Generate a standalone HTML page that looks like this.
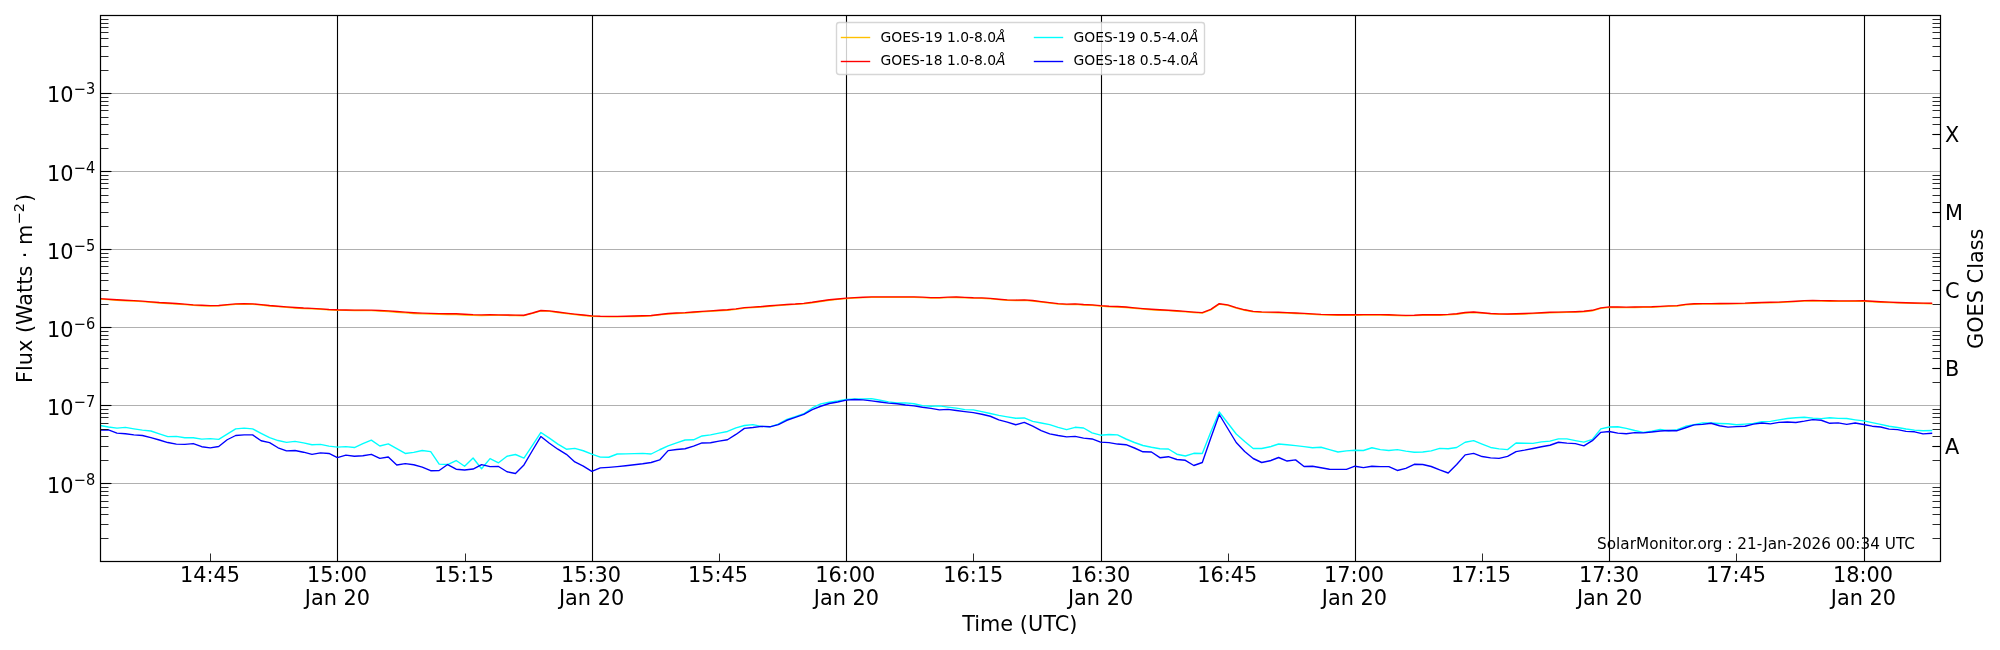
<!DOCTYPE html>
<html lang="en"><head><meta charset="utf-8"><title>GOES X-ray Flux</title>
<style>
html,body{margin:0;padding:0;background:#ffffff;}
svg{display:block;will-change:transform;}
text{font-family:"DejaVu Sans","Liberation Sans",sans-serif;fill:#000000;}
.tk{font-size:20.83px;}
.xt{letter-spacing:0.000px;}
.sup{font-size:14.58px;}
.lg{font-size:13.89px;}
.it{font-style:italic;}
.sm{font-size:15.28px;}
</style></head><body>
<svg width="2000" height="650" viewBox="0 0 2000 650">
<rect x="0" y="0" width="2000" height="650" fill="#ffffff"/>
<defs><clipPath id="axclip"><rect x="100" y="15" width="1840" height="546.4"/></clipPath></defs>
<g stroke="#b0b0b0" stroke-width="1.11" fill="none">
<line x1="100.5" y1="93.5" x2="1940.5" y2="93.5"/>
<line x1="100.5" y1="171.5" x2="1940.5" y2="171.5"/>
<line x1="100.5" y1="249.5" x2="1940.5" y2="249.5"/>
<line x1="100.5" y1="327.5" x2="1940.5" y2="327.5"/>
<line x1="100.5" y1="405.5" x2="1940.5" y2="405.5"/>
<line x1="100.5" y1="483.5" x2="1940.5" y2="483.5"/>
</g>
<g stroke="#000000" stroke-width="1.11" fill="none">
<line x1="337.5" y1="15.5" x2="337.5" y2="561.5"/>
<line x1="592.5" y1="15.5" x2="592.5" y2="561.5"/>
<line x1="846.5" y1="15.5" x2="846.5" y2="561.5"/>
<line x1="1101.5" y1="15.5" x2="1101.5" y2="561.5"/>
<line x1="1355.5" y1="15.5" x2="1355.5" y2="561.5"/>
<line x1="1609.5" y1="15.5" x2="1609.5" y2="561.5"/>
<line x1="1864.5" y1="15.5" x2="1864.5" y2="561.5"/>
</g>
<g clip-path="url(#axclip)" fill="none" stroke-width="1.39" stroke-linejoin="round" stroke-linecap="square">
<path stroke="#ffc000" d="M100.00 299.09 L108.48 299.68 L116.96 300.26 L125.44 300.73 L133.92 301.12 L142.40 301.59 L150.88 302.30 L159.35 302.99 L167.83 303.49 L176.31 303.98 L184.79 304.63 L193.27 305.30 L201.75 305.73 L210.23 306.04 L218.71 305.92 L227.19 305.13 L235.67 304.34 L244.15 304.09 L252.63 304.28 L261.11 305.03 L269.59 305.96 L278.06 306.67 L286.54 307.34 L295.02 307.94 L303.50 308.47 L311.98 308.81 L320.46 309.27 L328.94 309.91 L337.42 310.25 L345.90 310.40 L354.38 310.54 L362.86 310.56 L371.34 310.58 L379.82 311.02 L388.29 311.52 L396.77 312.27 L405.25 312.93 L413.73 313.48 L422.21 313.85 L430.69 314.16 L439.17 314.41 L447.65 314.47 L456.13 314.47 L464.61 314.95 L473.09 315.43 L481.57 315.59 L490.05 315.38 L498.53 315.35 L507.00 315.42 L515.48 315.56 L523.96 315.70 L532.44 313.43 L540.92 310.93 L549.40 311.37 L557.88 312.46 L566.36 313.55 L574.84 314.57 L583.32 315.51 L591.80 316.28 L600.28 316.66 L608.76 316.80 L617.23 316.80 L625.71 316.67 L634.19 316.50 L642.67 316.25 L651.15 315.92 L659.63 314.93 L668.11 313.94 L676.59 313.50 L685.07 313.12 L693.55 312.51 L702.03 311.87 L710.51 311.28 L718.99 310.74 L727.47 310.25 L735.94 309.37 L744.42 308.10 L752.90 307.55 L761.38 307.01 L769.86 306.25 L778.34 305.52 L786.82 304.89 L795.30 304.43 L803.78 303.77 L812.26 302.71 L820.74 301.45 L829.22 300.22 L837.70 299.42 L846.17 298.61 L854.65 298.10 L863.13 297.67 L871.61 297.36 L880.09 297.35 L888.57 297.35 L897.05 297.35 L905.53 297.35 L914.01 297.35 L922.49 297.60 L930.97 298.12 L939.45 298.12 L947.93 297.60 L956.41 297.50 L964.88 297.81 L973.36 298.17 L981.84 298.33 L990.32 298.80 L998.80 299.65 L1007.28 300.36 L1015.76 300.56 L1024.24 300.32 L1032.72 300.95 L1041.20 302.04 L1049.68 303.06 L1058.16 304.07 L1066.64 304.63 L1075.11 304.37 L1083.59 304.94 L1092.07 305.30 L1100.55 306.12 L1109.03 306.73 L1117.51 306.94 L1125.99 307.45 L1134.47 308.30 L1142.95 309.06 L1151.43 309.73 L1159.91 310.24 L1168.39 310.66 L1176.87 311.23 L1185.35 311.83 L1193.82 312.52 L1202.30 313.10 L1210.78 309.80 L1219.26 304.15 L1227.74 305.33 L1236.22 308.10 L1244.70 310.25 L1253.18 311.80 L1261.66 312.36 L1270.14 312.57 L1278.62 312.75 L1287.10 313.09 L1295.58 313.45 L1304.05 313.88 L1312.53 314.35 L1321.01 314.88 L1329.49 315.04 L1337.97 315.19 L1346.45 315.21 L1354.93 315.21 L1363.41 315.13 L1371.89 315.06 L1380.37 315.13 L1388.85 315.20 L1397.33 315.52 L1405.81 315.82 L1414.29 315.68 L1422.76 315.26 L1431.24 315.21 L1439.72 315.19 L1448.20 314.87 L1456.68 314.24 L1465.16 312.96 L1473.64 312.45 L1482.12 313.15 L1490.60 313.89 L1499.08 314.33 L1507.56 314.43 L1516.04 314.19 L1524.52 313.95 L1532.99 313.61 L1541.47 313.15 L1549.95 312.72 L1558.43 312.55 L1566.91 312.38 L1575.39 312.14 L1583.87 311.74 L1592.35 310.75 L1600.83 308.34 L1609.31 307.35 L1617.79 307.45 L1626.27 307.61 L1634.75 307.45 L1643.23 307.27 L1651.70 307.26 L1660.18 306.79 L1668.66 306.37 L1677.14 306.05 L1685.62 304.79 L1694.10 304.22 L1702.58 304.12 L1711.06 304.06 L1719.54 304.01 L1728.02 303.90 L1736.50 303.79 L1744.98 303.62 L1753.46 303.26 L1761.93 302.92 L1770.41 302.75 L1778.89 302.53 L1787.37 302.10 L1795.85 301.64 L1804.33 301.11 L1812.81 300.93 L1821.29 301.07 L1829.77 301.24 L1838.25 301.32 L1846.73 301.35 L1855.21 301.29 L1863.69 301.23 L1872.17 301.70 L1880.64 302.20 L1889.12 302.56 L1897.60 302.91 L1906.08 303.17 L1914.56 303.41 L1923.04 303.55 L1931.52 303.70"/>
<path stroke="#ff0000" d="M100.00 298.64 L108.48 299.23 L116.96 299.81 L125.44 300.28 L133.92 300.67 L142.40 301.14 L150.88 301.85 L159.35 302.54 L167.83 303.04 L176.31 303.53 L184.79 304.18 L193.27 304.85 L201.75 305.28 L210.23 305.59 L218.71 305.47 L227.19 304.68 L235.67 303.89 L244.15 303.64 L252.63 303.83 L261.11 304.58 L269.59 305.51 L278.06 306.22 L286.54 306.89 L295.02 307.49 L303.50 308.02 L311.98 308.36 L320.46 308.82 L328.94 309.46 L337.42 309.80 L345.90 309.95 L354.38 310.09 L362.86 310.11 L371.34 310.11 L379.82 310.45 L388.29 310.85 L396.77 311.52 L405.25 312.18 L413.73 312.73 L422.21 313.10 L430.69 313.41 L439.17 313.66 L447.65 313.72 L456.13 313.72 L464.61 314.20 L473.09 314.68 L481.57 314.92 L490.05 314.81 L498.53 314.88 L507.00 314.97 L515.48 315.11 L523.96 315.25 L532.44 312.98 L540.92 310.48 L549.40 310.92 L557.88 312.01 L566.36 313.10 L574.84 314.12 L583.32 315.06 L591.80 315.83 L600.28 316.21 L608.76 316.35 L617.23 316.35 L625.71 316.22 L634.19 316.05 L642.67 315.80 L651.15 315.47 L659.63 314.48 L668.11 313.49 L676.59 313.05 L685.07 312.67 L693.55 312.06 L702.03 311.42 L710.51 310.83 L718.99 310.29 L727.47 309.80 L735.94 308.92 L744.42 307.65 L752.90 307.10 L761.38 306.56 L769.86 305.80 L778.34 305.07 L786.82 304.44 L795.30 303.98 L803.78 303.32 L812.26 302.26 L820.74 301.00 L829.22 299.77 L837.70 298.97 L846.17 298.16 L854.65 297.65 L863.13 297.22 L871.61 296.91 L880.09 296.90 L888.57 296.90 L897.05 296.90 L905.53 296.90 L914.01 296.90 L922.49 297.15 L930.97 297.67 L939.45 297.67 L947.93 297.15 L956.41 297.05 L964.88 297.36 L973.36 297.72 L981.84 297.88 L990.32 298.35 L998.80 299.20 L1007.28 299.91 L1015.76 300.11 L1024.24 299.87 L1032.72 300.50 L1041.20 301.59 L1049.68 302.61 L1058.16 303.62 L1066.64 304.18 L1075.11 303.92 L1083.59 304.49 L1092.07 304.85 L1100.55 305.67 L1109.03 306.28 L1117.51 306.49 L1125.99 307.00 L1134.47 307.85 L1142.95 308.61 L1151.43 309.28 L1159.91 309.79 L1168.39 310.21 L1176.87 310.78 L1185.35 311.38 L1193.82 312.07 L1202.30 312.65 L1210.78 309.35 L1219.26 303.70 L1227.74 304.88 L1236.22 307.65 L1244.70 309.80 L1253.18 311.35 L1261.66 311.91 L1270.14 312.12 L1278.62 312.30 L1287.10 312.64 L1295.58 313.00 L1304.05 313.43 L1312.53 313.90 L1321.01 314.43 L1329.49 314.59 L1337.97 314.74 L1346.45 314.76 L1354.93 314.76 L1363.41 314.68 L1371.89 314.61 L1380.37 314.68 L1388.85 314.75 L1397.33 315.07 L1405.81 315.37 L1414.29 315.23 L1422.76 314.81 L1431.24 314.76 L1439.72 314.74 L1448.20 314.42 L1456.68 313.79 L1465.16 312.51 L1473.64 312.00 L1482.12 312.70 L1490.60 313.44 L1499.08 313.88 L1507.56 313.98 L1516.04 313.74 L1524.52 313.50 L1532.99 313.16 L1541.47 312.70 L1549.95 312.27 L1558.43 312.10 L1566.91 311.93 L1575.39 311.69 L1583.87 311.29 L1592.35 310.30 L1600.83 307.89 L1609.31 306.90 L1617.79 307.00 L1626.27 307.16 L1634.75 307.00 L1643.23 306.82 L1651.70 306.81 L1660.18 306.34 L1668.66 305.92 L1677.14 305.60 L1685.62 304.34 L1694.10 303.77 L1702.58 303.67 L1711.06 303.61 L1719.54 303.56 L1728.02 303.45 L1736.50 303.34 L1744.98 303.17 L1753.46 302.81 L1761.93 302.47 L1770.41 302.30 L1778.89 302.08 L1787.37 301.65 L1795.85 301.19 L1804.33 300.66 L1812.81 300.48 L1821.29 300.62 L1829.77 300.79 L1838.25 300.87 L1846.73 300.90 L1855.21 300.84 L1863.69 300.78 L1872.17 301.25 L1880.64 301.75 L1889.12 302.11 L1897.60 302.46 L1906.08 302.72 L1914.56 302.96 L1923.04 303.10 L1931.52 303.25"/>
<path stroke="#00ffff" d="M100.00 425.55 L108.48 427.00 L116.96 428.10 L125.44 427.42 L133.92 428.87 L142.40 430.14 L150.88 430.99 L159.35 433.80 L167.83 436.60 L176.31 436.35 L184.79 437.79 L193.27 437.71 L201.75 439.07 L210.23 438.64 L218.71 439.32 L227.19 434.22 L235.67 428.87 L244.15 428.10 L252.63 428.87 L261.11 433.37 L269.59 437.69 L278.06 440.55 L286.54 442.42 L295.02 441.40 L303.50 442.85 L311.98 444.72 L320.46 444.38 L328.94 446.08 L337.42 447.10 L345.90 446.67 L354.38 447.52 L362.86 443.70 L371.34 440.13 L379.82 445.99 L388.29 443.87 L396.77 448.63 L405.25 453.47 L413.73 452.37 L422.21 450.50 L430.69 451.60 L439.17 464.18 L447.65 464.52 L456.13 460.53 L464.61 466.22 L473.09 457.98 L481.57 468.77 L490.05 458.57 L498.53 462.82 L507.00 456.28 L515.48 454.49 L523.96 458.15 L532.44 445.40 L540.92 432.48 L549.40 438.17 L557.88 444.12 L566.36 449.22 L574.84 448.37 L583.32 450.75 L591.80 454.07 L600.28 457.13 L608.76 457.26 L617.23 454.00 L625.71 453.83 L634.19 453.57 L642.67 453.32 L651.15 454.00 L659.63 449.75 L668.11 445.92 L676.59 442.95 L685.07 439.97 L693.55 439.80 L702.03 435.98 L710.51 434.87 L718.99 433.17 L727.47 431.47 L735.94 427.82 L744.42 425.52 L752.90 424.67 L761.38 426.37 L769.86 426.80 L778.34 424.17 L786.82 419.42 L795.30 416.62 L803.78 413.73 L812.26 407.95 L820.74 403.87 L829.22 402.25 L837.70 400.98 L846.17 399.45 L854.65 398.85 L863.13 398.85 L871.61 398.60 L880.09 400.30 L888.57 401.83 L897.05 403.02 L905.53 402.85 L914.01 403.70 L922.49 405.65 L930.97 406.25 L939.45 405.82 L947.93 407.08 L956.41 408.17 L964.88 409.62 L973.36 409.87 L981.84 411.57 L990.32 413.53 L998.80 415.40 L1007.28 416.84 L1015.76 418.20 L1024.24 417.95 L1032.72 421.35 L1041.20 423.05 L1049.68 424.58 L1058.16 427.30 L1066.64 429.68 L1075.11 427.30 L1083.59 427.98 L1092.07 432.82 L1100.55 435.20 L1109.03 434.52 L1117.51 434.89 L1125.99 439.00 L1134.47 442.50 L1142.95 445.50 L1151.43 447.20 L1159.91 448.70 L1168.39 449.00 L1176.87 454.20 L1185.35 456.00 L1193.82 453.30 L1202.30 453.50 L1210.78 432.00 L1219.26 412.00 L1227.74 423.00 L1236.22 434.00 L1244.70 441.50 L1253.18 448.50 L1261.66 448.50 L1270.14 446.80 L1278.62 444.00 L1287.10 444.71 L1295.58 445.65 L1304.05 446.67 L1312.53 447.78 L1321.01 447.27 L1329.49 449.65 L1337.97 452.03 L1346.45 450.92 L1354.93 450.24 L1363.41 450.50 L1371.89 447.78 L1380.37 449.65 L1388.85 450.50 L1397.33 449.65 L1405.81 451.18 L1414.29 452.20 L1422.76 452.03 L1431.24 450.92 L1439.72 448.37 L1448.20 448.80 L1456.68 447.49 L1465.16 442.27 L1473.64 440.65 L1482.12 444.05 L1490.60 447.45 L1499.08 448.90 L1507.56 449.58 L1516.04 442.95 L1524.52 443.20 L1532.99 443.37 L1541.47 441.93 L1549.95 441.08 L1558.43 438.87 L1566.91 438.87 L1575.39 440.57 L1583.87 442.10 L1592.35 439.38 L1600.83 428.92 L1609.31 427.05 L1617.79 426.80 L1626.27 428.41 L1634.75 430.53 L1643.23 432.40 L1651.70 431.12 L1660.18 429.42 L1668.66 430.70 L1677.14 429.68 L1685.62 426.28 L1694.10 424.75 L1702.58 422.88 L1711.06 423.05 L1719.54 423.47 L1728.02 423.73 L1736.50 424.75 L1744.98 424.07 L1753.46 423.47 L1761.93 421.77 L1770.41 421.35 L1778.89 419.90 L1787.37 418.54 L1795.85 417.74 L1804.33 417.27 L1812.81 418.12 L1821.29 418.63 L1829.77 417.69 L1838.25 418.37 L1846.73 418.54 L1855.21 419.82 L1863.69 420.92 L1872.17 422.62 L1880.64 424.32 L1889.12 426.28 L1897.60 427.55 L1906.08 429.00 L1914.56 430.10 L1923.04 430.70 L1931.52 430.53"/>
<path stroke="#0000ff" d="M100.00 429.97 L108.48 429.97 L116.96 433.12 L125.44 433.80 L133.92 434.82 L142.40 435.50 L150.88 437.62 L159.35 440.00 L167.83 442.55 L176.31 444.17 L184.79 444.34 L193.27 443.57 L201.75 446.72 L210.23 447.82 L218.71 446.55 L227.19 439.75 L235.67 435.50 L244.15 434.90 L252.63 434.90 L261.11 440.77 L269.59 442.62 L278.06 447.78 L286.54 450.92 L295.02 450.50 L303.50 452.20 L311.98 454.32 L320.46 452.88 L328.94 453.47 L337.42 457.55 L345.90 455.17 L354.38 456.19 L362.86 455.77 L371.34 454.32 L379.82 458.32 L388.29 457.04 L396.77 464.95 L405.25 463.67 L413.73 464.78 L422.21 467.07 L430.69 470.73 L439.17 470.47 L447.65 464.52 L456.13 469.20 L464.61 470.05 L473.09 469.03 L481.57 464.69 L490.05 466.65 L498.53 466.48 L507.00 471.75 L515.48 473.45 L523.96 464.95 L532.44 450.50 L540.92 436.47 L549.40 443.27 L557.88 449.22 L566.36 454.32 L574.84 461.97 L583.32 466.05 L591.80 471.32 L600.28 467.92 L608.76 467.34 L617.23 466.58 L625.71 465.73 L634.19 464.79 L642.67 463.77 L651.15 462.50 L659.63 459.95 L668.11 450.60 L676.59 449.49 L685.07 448.73 L693.55 446.18 L702.03 442.95 L710.51 442.78 L718.99 441.08 L727.47 439.72 L735.94 434.45 L744.42 428.33 L752.90 427.48 L761.38 426.37 L769.86 426.80 L778.34 424.60 L786.82 420.27 L795.30 417.30 L803.78 414.32 L812.26 409.65 L820.74 406.25 L829.22 403.53 L837.70 402.00 L846.17 400.13 L854.65 399.45 L863.13 399.87 L871.61 400.89 L880.09 402.00 L888.57 403.10 L897.05 403.70 L905.53 404.97 L914.01 405.82 L922.49 407.27 L930.97 408.37 L939.45 409.82 L947.93 409.34 L956.41 410.47 L964.88 411.57 L973.36 412.59 L981.84 414.29 L990.32 416.25 L998.80 419.90 L1007.28 422.20 L1015.76 424.75 L1024.24 422.45 L1032.72 426.19 L1041.20 430.53 L1049.68 433.93 L1058.16 435.54 L1066.64 436.90 L1075.11 436.39 L1083.59 438.09 L1092.07 438.94 L1100.55 442.17 L1109.03 442.60 L1117.51 444.06 L1125.99 444.70 L1134.47 448.00 L1142.95 451.80 L1151.43 452.00 L1159.91 457.70 L1168.39 456.70 L1176.87 459.50 L1185.35 460.30 L1193.82 465.50 L1202.30 462.50 L1210.78 438.00 L1219.26 414.50 L1227.74 428.50 L1236.22 442.50 L1244.70 451.50 L1253.18 458.50 L1261.66 462.50 L1270.14 460.80 L1278.62 457.50 L1287.10 461.06 L1295.58 459.85 L1304.05 466.48 L1312.53 466.22 L1321.01 467.75 L1329.49 469.20 L1337.97 469.37 L1346.45 469.37 L1354.93 466.22 L1363.41 467.67 L1371.89 466.22 L1380.37 466.65 L1388.85 466.65 L1397.33 470.47 L1405.81 468.35 L1414.29 464.27 L1422.76 464.52 L1431.24 466.48 L1439.72 469.88 L1448.20 473.02 L1456.68 464.57 L1465.16 454.85 L1473.64 453.40 L1482.12 456.55 L1490.60 457.82 L1499.08 458.42 L1507.56 456.38 L1516.04 451.62 L1524.52 450.17 L1532.99 448.47 L1541.47 446.77 L1549.95 445.24 L1558.43 442.27 L1566.91 443.12 L1575.39 443.63 L1583.87 445.92 L1592.35 440.65 L1600.83 432.32 L1609.31 431.47 L1617.79 433.17 L1626.27 433.72 L1634.75 432.57 L1643.23 432.82 L1651.70 431.97 L1660.18 430.95 L1668.66 430.53 L1677.14 430.70 L1685.62 427.72 L1694.10 424.92 L1702.58 424.32 L1711.06 423.22 L1719.54 425.77 L1728.02 427.13 L1736.50 426.62 L1744.98 426.28 L1753.46 424.15 L1761.93 423.05 L1770.41 423.90 L1778.89 422.37 L1787.37 422.03 L1795.85 422.45 L1804.33 421.18 L1812.81 419.65 L1821.29 420.24 L1829.77 423.30 L1838.25 422.88 L1846.73 424.32 L1855.21 423.05 L1863.69 424.49 L1872.17 426.19 L1880.64 427.04 L1889.12 429.17 L1897.60 429.68 L1906.08 431.38 L1914.56 431.80 L1923.04 433.93 L1931.52 433.25"/>
</g>
<g stroke="#000000" stroke-width="0.83" fill="none">
<line x1="100.5" y1="70.5" x2="108.5" y2="70.5"/>
<line x1="1940.5" y1="70.5" x2="1932.5" y2="70.5"/>
<line x1="100.5" y1="56.5" x2="108.5" y2="56.5"/>
<line x1="1940.5" y1="56.5" x2="1932.5" y2="56.5"/>
<line x1="100.5" y1="46.5" x2="108.5" y2="46.5"/>
<line x1="1940.5" y1="46.5" x2="1932.5" y2="46.5"/>
<line x1="100.5" y1="38.5" x2="108.5" y2="38.5"/>
<line x1="1940.5" y1="38.5" x2="1932.5" y2="38.5"/>
<line x1="100.5" y1="32.5" x2="108.5" y2="32.5"/>
<line x1="1940.5" y1="32.5" x2="1932.5" y2="32.5"/>
<line x1="100.5" y1="27.5" x2="108.5" y2="27.5"/>
<line x1="1940.5" y1="27.5" x2="1932.5" y2="27.5"/>
<line x1="100.5" y1="23.5" x2="108.5" y2="23.5"/>
<line x1="1940.5" y1="23.5" x2="1932.5" y2="23.5"/>
<line x1="100.5" y1="19.5" x2="108.5" y2="19.5"/>
<line x1="1940.5" y1="19.5" x2="1932.5" y2="19.5"/>
<line x1="100.5" y1="148.5" x2="108.5" y2="148.5"/>
<line x1="1940.5" y1="148.5" x2="1932.5" y2="148.5"/>
<line x1="100.5" y1="134.5" x2="108.5" y2="134.5"/>
<line x1="1940.5" y1="134.5" x2="1932.5" y2="134.5"/>
<line x1="100.5" y1="124.5" x2="108.5" y2="124.5"/>
<line x1="1940.5" y1="124.5" x2="1932.5" y2="124.5"/>
<line x1="100.5" y1="117.5" x2="108.5" y2="117.5"/>
<line x1="1940.5" y1="117.5" x2="1932.5" y2="117.5"/>
<line x1="100.5" y1="110.5" x2="108.5" y2="110.5"/>
<line x1="1940.5" y1="110.5" x2="1932.5" y2="110.5"/>
<line x1="100.5" y1="105.5" x2="108.5" y2="105.5"/>
<line x1="1940.5" y1="105.5" x2="1932.5" y2="105.5"/>
<line x1="100.5" y1="101.5" x2="108.5" y2="101.5"/>
<line x1="1940.5" y1="101.5" x2="1932.5" y2="101.5"/>
<line x1="100.5" y1="97.5" x2="108.5" y2="97.5"/>
<line x1="1940.5" y1="97.5" x2="1932.5" y2="97.5"/>
<line x1="100.5" y1="226.5" x2="108.5" y2="226.5"/>
<line x1="1940.5" y1="226.5" x2="1932.5" y2="226.5"/>
<line x1="100.5" y1="212.5" x2="108.5" y2="212.5"/>
<line x1="1940.5" y1="212.5" x2="1932.5" y2="212.5"/>
<line x1="100.5" y1="202.5" x2="108.5" y2="202.5"/>
<line x1="1940.5" y1="202.5" x2="1932.5" y2="202.5"/>
<line x1="100.5" y1="195.5" x2="108.5" y2="195.5"/>
<line x1="1940.5" y1="195.5" x2="1932.5" y2="195.5"/>
<line x1="100.5" y1="188.5" x2="108.5" y2="188.5"/>
<line x1="1940.5" y1="188.5" x2="1932.5" y2="188.5"/>
<line x1="100.5" y1="183.5" x2="108.5" y2="183.5"/>
<line x1="1940.5" y1="183.5" x2="1932.5" y2="183.5"/>
<line x1="100.5" y1="179.5" x2="108.5" y2="179.5"/>
<line x1="1940.5" y1="179.5" x2="1932.5" y2="179.5"/>
<line x1="100.5" y1="175.5" x2="108.5" y2="175.5"/>
<line x1="1940.5" y1="175.5" x2="1932.5" y2="175.5"/>
<line x1="100.5" y1="304.5" x2="108.5" y2="304.5"/>
<line x1="1940.5" y1="304.5" x2="1932.5" y2="304.5"/>
<line x1="100.5" y1="290.5" x2="108.5" y2="290.5"/>
<line x1="1940.5" y1="290.5" x2="1932.5" y2="290.5"/>
<line x1="100.5" y1="280.5" x2="108.5" y2="280.5"/>
<line x1="1940.5" y1="280.5" x2="1932.5" y2="280.5"/>
<line x1="100.5" y1="273.5" x2="108.5" y2="273.5"/>
<line x1="1940.5" y1="273.5" x2="1932.5" y2="273.5"/>
<line x1="100.5" y1="266.5" x2="108.5" y2="266.5"/>
<line x1="1940.5" y1="266.5" x2="1932.5" y2="266.5"/>
<line x1="100.5" y1="261.5" x2="108.5" y2="261.5"/>
<line x1="1940.5" y1="261.5" x2="1932.5" y2="261.5"/>
<line x1="100.5" y1="257.5" x2="108.5" y2="257.5"/>
<line x1="1940.5" y1="257.5" x2="1932.5" y2="257.5"/>
<line x1="100.5" y1="253.5" x2="108.5" y2="253.5"/>
<line x1="1940.5" y1="253.5" x2="1932.5" y2="253.5"/>
<line x1="100.5" y1="382.5" x2="108.5" y2="382.5"/>
<line x1="1940.5" y1="382.5" x2="1932.5" y2="382.5"/>
<line x1="100.5" y1="368.5" x2="108.5" y2="368.5"/>
<line x1="1940.5" y1="368.5" x2="1932.5" y2="368.5"/>
<line x1="100.5" y1="358.5" x2="108.5" y2="358.5"/>
<line x1="1940.5" y1="358.5" x2="1932.5" y2="358.5"/>
<line x1="100.5" y1="351.5" x2="108.5" y2="351.5"/>
<line x1="1940.5" y1="351.5" x2="1932.5" y2="351.5"/>
<line x1="100.5" y1="345.5" x2="108.5" y2="345.5"/>
<line x1="1940.5" y1="345.5" x2="1932.5" y2="345.5"/>
<line x1="100.5" y1="339.5" x2="108.5" y2="339.5"/>
<line x1="1940.5" y1="339.5" x2="1932.5" y2="339.5"/>
<line x1="100.5" y1="335.5" x2="108.5" y2="335.5"/>
<line x1="1940.5" y1="335.5" x2="1932.5" y2="335.5"/>
<line x1="100.5" y1="331.5" x2="108.5" y2="331.5"/>
<line x1="1940.5" y1="331.5" x2="1932.5" y2="331.5"/>
<line x1="100.5" y1="460.5" x2="108.5" y2="460.5"/>
<line x1="1940.5" y1="460.5" x2="1932.5" y2="460.5"/>
<line x1="100.5" y1="446.5" x2="108.5" y2="446.5"/>
<line x1="1940.5" y1="446.5" x2="1932.5" y2="446.5"/>
<line x1="100.5" y1="436.5" x2="108.5" y2="436.5"/>
<line x1="1940.5" y1="436.5" x2="1932.5" y2="436.5"/>
<line x1="100.5" y1="429.5" x2="108.5" y2="429.5"/>
<line x1="1940.5" y1="429.5" x2="1932.5" y2="429.5"/>
<line x1="100.5" y1="423.5" x2="108.5" y2="423.5"/>
<line x1="1940.5" y1="423.5" x2="1932.5" y2="423.5"/>
<line x1="100.5" y1="417.5" x2="108.5" y2="417.5"/>
<line x1="1940.5" y1="417.5" x2="1932.5" y2="417.5"/>
<line x1="100.5" y1="413.5" x2="108.5" y2="413.5"/>
<line x1="1940.5" y1="413.5" x2="1932.5" y2="413.5"/>
<line x1="100.5" y1="409.5" x2="108.5" y2="409.5"/>
<line x1="1940.5" y1="409.5" x2="1932.5" y2="409.5"/>
<line x1="100.5" y1="538.5" x2="108.5" y2="538.5"/>
<line x1="1940.5" y1="538.5" x2="1932.5" y2="538.5"/>
<line x1="100.5" y1="524.5" x2="108.5" y2="524.5"/>
<line x1="1940.5" y1="524.5" x2="1932.5" y2="524.5"/>
<line x1="100.5" y1="514.5" x2="108.5" y2="514.5"/>
<line x1="1940.5" y1="514.5" x2="1932.5" y2="514.5"/>
<line x1="100.5" y1="507.5" x2="108.5" y2="507.5"/>
<line x1="1940.5" y1="507.5" x2="1932.5" y2="507.5"/>
<line x1="100.5" y1="501.5" x2="108.5" y2="501.5"/>
<line x1="1940.5" y1="501.5" x2="1932.5" y2="501.5"/>
<line x1="100.5" y1="495.5" x2="108.5" y2="495.5"/>
<line x1="1940.5" y1="495.5" x2="1932.5" y2="495.5"/>
<line x1="100.5" y1="491.5" x2="108.5" y2="491.5"/>
<line x1="1940.5" y1="491.5" x2="1932.5" y2="491.5"/>
<line x1="100.5" y1="487.5" x2="108.5" y2="487.5"/>
<line x1="1940.5" y1="487.5" x2="1932.5" y2="487.5"/>
<line x1="210.5" y1="561.5" x2="210.5" y2="553.5"/>
<line x1="465.5" y1="561.5" x2="465.5" y2="553.5"/>
<line x1="719.5" y1="561.5" x2="719.5" y2="553.5"/>
<line x1="973.5" y1="561.5" x2="973.5" y2="553.5"/>
<line x1="1228.5" y1="561.5" x2="1228.5" y2="553.5"/>
<line x1="1482.5" y1="561.5" x2="1482.5" y2="553.5"/>
<line x1="1736.5" y1="561.5" x2="1736.5" y2="553.5"/>
</g>
<g stroke="#000000" stroke-width="1.11" fill="none">
<line x1="100.5" y1="93.5" x2="111.5" y2="93.5"/>
<line x1="1940.5" y1="134.5" x2="1932.5" y2="134.5"/>
<line x1="100.5" y1="171.5" x2="111.5" y2="171.5"/>
<line x1="1940.5" y1="212.5" x2="1932.5" y2="212.5"/>
<line x1="100.5" y1="249.5" x2="111.5" y2="249.5"/>
<line x1="1940.5" y1="290.5" x2="1932.5" y2="290.5"/>
<line x1="100.5" y1="327.5" x2="111.5" y2="327.5"/>
<line x1="1940.5" y1="368.5" x2="1932.5" y2="368.5"/>
<line x1="100.5" y1="405.5" x2="111.5" y2="405.5"/>
<line x1="1940.5" y1="446.5" x2="1932.5" y2="446.5"/>
<line x1="100.5" y1="483.5" x2="111.5" y2="483.5"/>
</g>
<rect x="100.5" y="15.5" width="1840.0" height="546.0" fill="none" stroke="#000000" stroke-width="1.22"/>
<text class="tk" x="47.00" y="101.50">10</text>
<text class="sup" transform="translate(73.75 93.50) scale(1 1.0300)">−3</text>
<text class="tk" x="47.00" y="180.50">10</text>
<text class="sup" transform="translate(73.75 172.50) scale(1 1.0300)">−4</text>
<text class="tk" x="47.00" y="258.50">10</text>
<text class="sup" transform="translate(73.75 250.50) scale(1 1.0300)">−5</text>
<text class="tk" x="47.00" y="336.50">10</text>
<text class="sup" transform="translate(73.75 328.50) scale(1 1.0300)">−6</text>
<text class="tk" x="47.00" y="414.50">10</text>
<text class="sup" transform="translate(73.75 406.50) scale(1 1.0300)">−7</text>
<text class="tk" x="47.00" y="492.50">10</text>
<text class="sup" transform="translate(73.75 484.50) scale(1 1.0300)">−8</text>
<text class="tk xt" x="209.98" y="581.50" text-anchor="middle">14:45</text>
<text class="tk xt" x="336.92" y="581.50" text-anchor="middle">15:00</text>
<text class="tk xt" x="337.42" y="604.55" text-anchor="middle">Jan 20</text>
<text class="tk xt" x="464.11" y="581.50" text-anchor="middle">15:15</text>
<text class="tk xt" x="591.05" y="581.50" text-anchor="middle">15:30</text>
<text class="tk xt" x="591.55" y="604.55" text-anchor="middle">Jan 20</text>
<text class="tk xt" x="717.99" y="581.50" text-anchor="middle">15:45</text>
<text class="tk xt" x="845.17" y="581.50" text-anchor="middle">16:00</text>
<text class="tk xt" x="846.42" y="604.55" text-anchor="middle">Jan 20</text>
<text class="tk xt" x="973.36" y="581.50" text-anchor="middle">16:15</text>
<text class="tk xt" x="1100.30" y="581.50" text-anchor="middle">16:30</text>
<text class="tk xt" x="1100.55" y="604.55" text-anchor="middle">Jan 20</text>
<text class="tk xt" x="1227.24" y="581.50" text-anchor="middle">16:45</text>
<text class="tk xt" x="1353.93" y="581.50" text-anchor="middle">17:00</text>
<text class="tk xt" x="1354.43" y="604.55" text-anchor="middle">Jan 20</text>
<text class="tk xt" x="1481.12" y="581.50" text-anchor="middle">17:15</text>
<text class="tk xt" x="1609.06" y="581.50" text-anchor="middle">17:30</text>
<text class="tk xt" x="1609.56" y="604.55" text-anchor="middle">Jan 20</text>
<text class="tk xt" x="1736.00" y="581.50" text-anchor="middle">17:45</text>
<text class="tk xt" x="1862.94" y="581.50" text-anchor="middle">18:00</text>
<text class="tk xt" x="1863.44" y="604.55" text-anchor="middle">Jan 20</text>
<text class="tk" x="1019.75" y="630.60" text-anchor="middle">Time (UTC)</text>
<text class="tk" transform="translate(31.50 383.00) rotate(-90)">Flux (Watts<tspan dx="1.00"> ·</tspan><tspan dx="0.00"> m</tspan><tspan class="sup" dx="0.00" dy="-7.60">−2</tspan><tspan dx="1.00" dy="7.60">)</tspan></text>
<text class="tk" transform="translate(1982.50 288.75) rotate(-90)" text-anchor="middle">GOES Class</text>
<text class="tk" x="1944.90" y="141.55">X</text>
<text class="tk" x="1944.90" y="219.55">M</text>
<text class="tk" x="1944.90" y="297.55">C</text>
<text class="tk" x="1944.90" y="375.55">B</text>
<text class="tk" x="1944.90" y="453.55">A</text>
<text class="sm" x="1915.00" y="548.55" text-anchor="end">SolarMonitor.org : 21-Jan-2026 00:34 UTC</text>
<rect x="836.5" y="22.5" width="368" height="52" rx="2.78" ry="2.78" fill="#ffffff" fill-opacity="0.8" stroke="#cccccc" stroke-opacity="0.8" stroke-width="1.39"/>
<line x1="840.8" y1="37.5" x2="870.2" y2="37.5" stroke="#ffc000" stroke-width="1.39"/>
<line x1="840.8" y1="61.5" x2="870.2" y2="61.5" stroke="#ff0000" stroke-width="1.39"/>
<line x1="1033.8" y1="37.5" x2="1063.2" y2="37.5" stroke="#00ffff" stroke-width="1.39"/>
<line x1="1033.8" y1="61.5" x2="1063.2" y2="61.5" stroke="#0000ff" stroke-width="1.39"/>
<text class="lg" x="880.60" y="41.55">GOES-19 1.0-8.0<tspan class="it">Å</tspan></text>
<text class="lg" x="880.60" y="64.50">GOES-18 1.0-8.0<tspan class="it">Å</tspan></text>
<text class="lg" x="1073.55" y="41.55">GOES-19 0.5-4.0<tspan class="it">Å</tspan></text>
<text class="lg" x="1073.55" y="64.50">GOES-18 0.5-4.0<tspan class="it">Å</tspan></text>
</svg></body></html>
